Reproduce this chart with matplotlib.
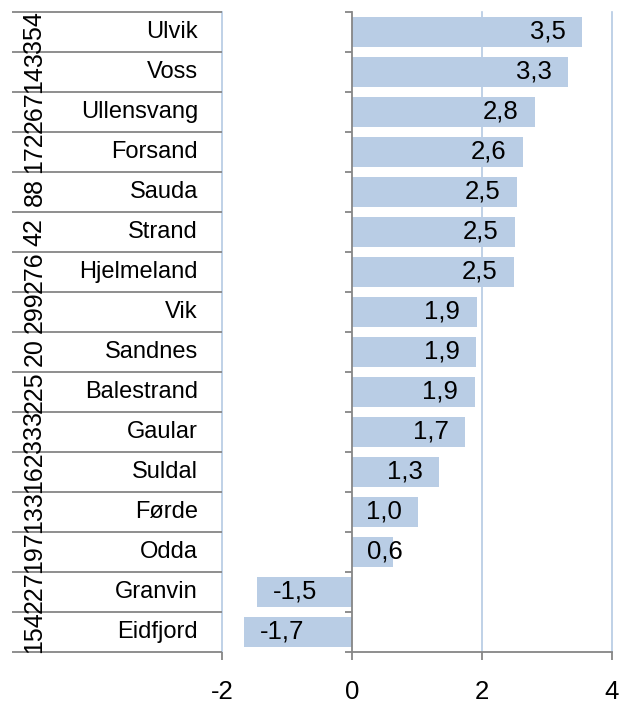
import matplotlib
matplotlib.use('Agg')
import matplotlib.pyplot as plt
import numpy as np

plt.rcParams['font.family'] = ['Liberation Sans', 'DejaVu Sans']

# data, top row first
names = ['Ulvik', 'Voss', 'Ullensvang', 'Forsand', 'Sauda', 'Strand', 'Hjelmeland',
         'Vik', 'Sandnes', 'Balestrand', 'Gaular', 'Suldal', 'Førde', 'Odda',
         'Granvin', 'Eidfjord']
ranks = [354, 143, 267, 172, 88, 42, 276, 299, 20, 225, 333, 162, 133, 197, 227, 154]
values = [3.54, 3.33, 2.82, 2.63, 2.54, 2.51, 2.49, 1.92, 1.91, 1.89, 1.74, 1.34,
          1.02, 0.63, -1.46, -1.66]
xticks = [-2, 0, 2, 4]

bar_col = '#b9cde5'
grid_col = '#b4c9e3'
axis_col = '#868686'
fs_val = 18.5
fs_name = 17
fs_rank = 18

fig = plt.figure(figsize=(6.19, 7.03), dpi=100)
W, H = 619, 703
ax = fig.add_axes([222 / W, 51 / H, 390 / W, 640 / H])

n = len(names)
ypos = np.arange(n)
ax.barh(ypos, values, height=0.77, color=bar_col, zorder=2)

ax.set_xlim(-2, 4)
ax.set_ylim(n - 0.5, -0.5)

# light blue gridlines
for g in [-2, 2, 4]:
    ax.axvline(g, color=grid_col, lw=1.2, zorder=1, clip_on=False)

# spines
ax.spines['top'].set_visible(False)
ax.spines['right'].set_visible(False)
ax.spines['left'].set_position(('data', 0))
ax.spines['left'].set_color(axis_col)
ax.spines['left'].set_linewidth(1.3)
ax.spines['left'].set_zorder(3)
ax.spines['bottom'].set_bounds(0, 4)
ax.spines['bottom'].set_color(axis_col)
ax.spines['bottom'].set_linewidth(1.3)

ax.set_yticks(np.arange(n + 1) - 0.5)
ax.set_yticklabels([])
ax.tick_params(axis='y', direction='out', length=5, width=1.3, color=axis_col)
ax.set_xticks(xticks)
ax.set_xticklabels([str(t) for t in xticks], fontsize=fs_val)
ax.tick_params(axis='x', direction='out', length=6, width=1.3, color=axis_col, pad=14)

# value labels
for y, v in zip(ypos, values):
    lab = f'{v:.1f}'.replace('.', ',')
    if v < 0:
        ax.annotate(lab, (v, y), xytext=(11.5, 0), textcoords='offset points',
                    ha='left', va='center', fontsize=fs_val, zorder=4)
    elif v < 0.8:
        ax.annotate(lab, (0, y), xytext=(11, 0), textcoords='offset points',
                    ha='left', va='center', fontsize=fs_val, zorder=4)
    else:
        ax.annotate(lab, (v, y), xytext=(-12, 0), textcoords='offset points',
                    ha='right', va='center', fontsize=fs_val, zorder=4)

# category label area on the left
tr = ax.get_yaxis_transform()
x_left = (12 - 222) / 390
for b in np.arange(n + 1) - 0.5:
    ax.plot([x_left, 0], [b, b], transform=tr, color=axis_col, lw=1.3,
            clip_on=False, solid_capstyle='butt')
for y, nm, r in zip(ypos, names, ranks):
    ax.text((198 - 222) / 390, y, nm, transform=tr, ha='right', va='center',
            fontsize=fs_name)
    ax.text((34.5 - 222) / 390, y, str(r), transform=tr, ha='center', va='center',
            rotation=90, fontsize=fs_rank)

fig.savefig('out.png', dpi=100)
